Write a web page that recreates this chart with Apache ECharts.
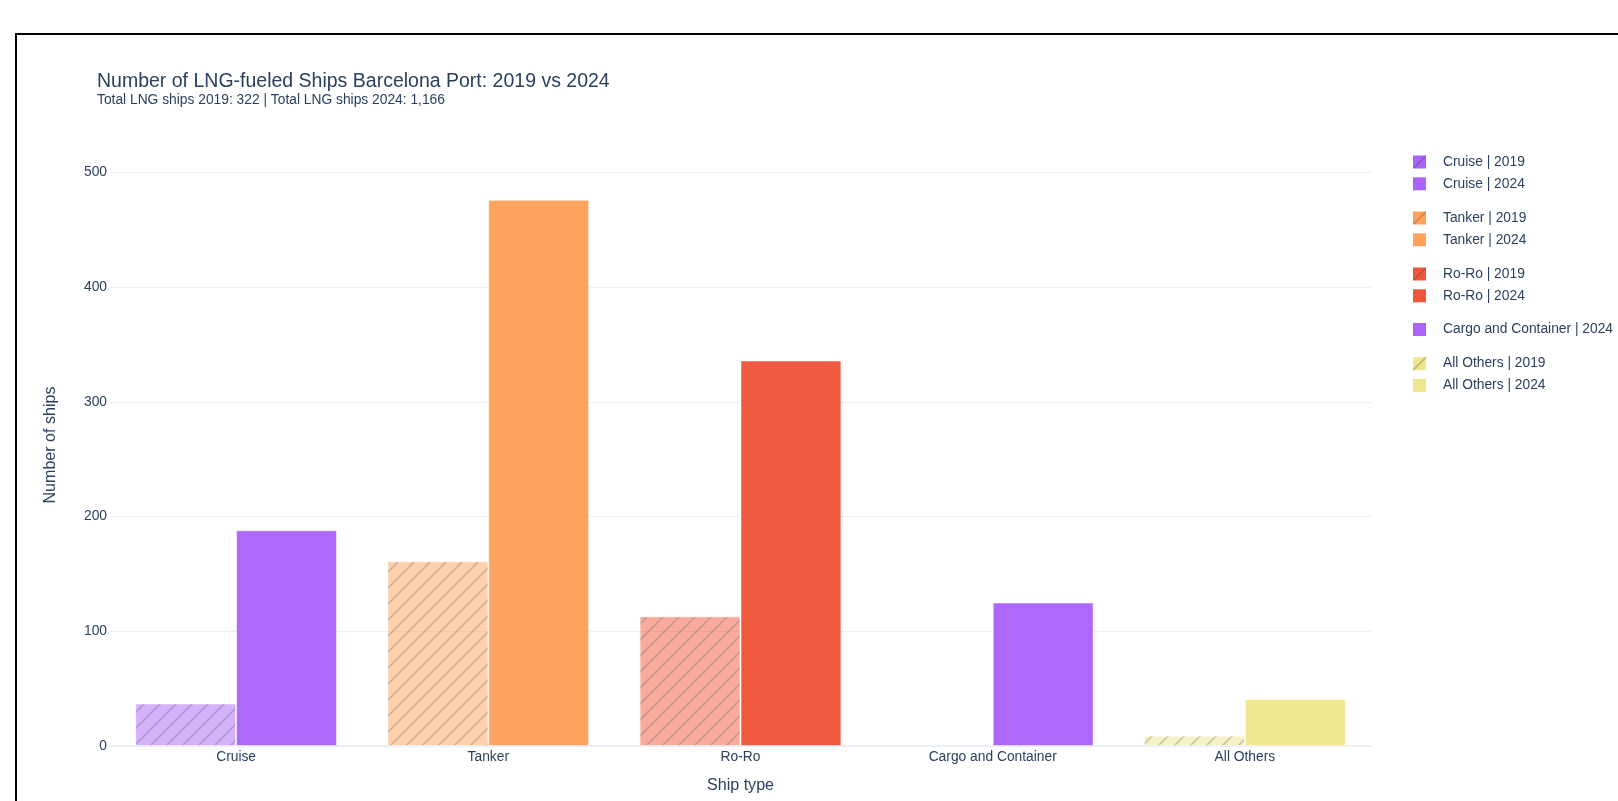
<!DOCTYPE html>
<html>
<head>
<meta charset="utf-8">
<script src="https://cdn.jsdelivr.net/npm/echarts@6/dist/echarts.min.js"></script>
<style>
  html, body { margin: 0; padding: 0; background: #fff; overflow: hidden; }
  #chart { position: absolute; left: 0; top: 0; width: 1618px; height: 801px; }
  #frame { position: absolute; left: 15px; top: 33px; width: 1700px; height: 900px;
           border: 2px solid #000; pointer-events: none; }
</style>
</head>
<body>
<div id="chart"></div>
<div id="frame"></div>
<script>
// ---- data ----
const categories = ["Cruise", "Tanker", "Ro-Ro", "Cargo and Container", "All Others"];
const values2019 = [37, 161, 113, null, 9];
const values2024 = [188, 476, 336, 125, 41];
const categoryColors = ["#AB63FA", "#FFA15A", "#EF553B", "#AB63FA", "#F0E68C"];
const yTicks = [0, 100, 200, 300, 400, 500];
const titleText = "Number of LNG-fueled Ships Barcelona Port: 2019 vs 2024";
const subtitleText = "Total LNG ships 2019: 322 | Total LNG ships 2024: 1,166";
const xAxisTitle = "Ship type";
const yAxisTitle = "Number of ships";

const FONT = "'Liberation Sans', Arial, sans-serif";
const TXT = "#2a3f5f";

function rgba(hex, a) {
  const r = parseInt(hex.slice(1, 3), 16), g = parseInt(hex.slice(3, 5), 16), b = parseInt(hex.slice(5, 7), 16);
  return `rgba(${r},${g},${b},${a})`;
}
function hatchTile(hex) {
  const s = 16;
  const c = document.createElement('canvas');
  c.width = s; c.height = s;
  const ctx = c.getContext('2d');
  ctx.fillStyle = rgba(hex, 0.5);
  ctx.fillRect(0, 0, s, s);
  ctx.strokeStyle = 'rgba(110,110,110,0.32)';
  ctx.lineWidth = 1.6;
  ctx.beginPath();
  ctx.moveTo(0, s); ctx.lineTo(s, 0);
  ctx.moveTo(-2, 2); ctx.lineTo(2, -2);
  ctx.moveTo(s - 2, s + 2); ctx.lineTo(s + 2, s - 2);
  ctx.stroke();
  return { image: c, repeat: 'repeat' };
}
function legendHatch(hex) {
  const s = 13;
  const c = document.createElement('canvas');
  c.width = s; c.height = s;
  const ctx = c.getContext('2d');
  ctx.fillStyle = hex;
  ctx.fillRect(0, 0, s, s);
  ctx.strokeStyle = 'rgba(60,60,60,0.35)';
  ctx.lineWidth = 1.3;
  ctx.beginPath();
  ctx.moveTo(0, s); ctx.lineTo(s, 0);
  ctx.stroke();
  return { image: c, repeat: 'repeat' };
}

const series = [];
const legendGroups = [];
categories.forEach((cat, i) => {
  const group = [];
  const col = categoryColors[i];
  if (values2019[i] != null) {
    const name = cat + " | 2019";
    series.push({
      name, type: 'bar', stack: '2019',
      data: categories.map((_, j) => j === i ? values2019[i] : '-'),
      itemStyle: { color: hatchTile(col), borderColor: 'rgba(255,255,255,0.5)', borderWidth: 1 },
      barGap: '0%', barCategoryGap: '20%'
    });
    group.push({ name, itemStyle: { color: legendHatch(col) } });
  }
  if (values2024[i] != null) {
    const name = cat + " | 2024";
    series.push({
      name, type: 'bar', stack: '2024',
      data: categories.map((_, j) => j === i ? values2024[i] : '-'),
      itemStyle: { color: col, opacity: 0.97, borderColor: 'rgba(255,255,255,0.5)', borderWidth: 1 },
      barGap: '0%', barCategoryGap: '20%'
    });
    group.push({ name, itemStyle: { color: col, opacity: 1 } });
  }
  legendGroups.push(group);
});

const legendTops = [155, 211, 267, 322.5, 356.6];
const legends = legendGroups.map((g, k) => ({
  data: g,
  orient: 'vertical',
  left: 1413,
  top: legendTops[k],
  padding: 0,
  itemWidth: 13,
  itemHeight: 13,
  itemGap: 7.8,
  icon: 'rect',
  itemStyle: { borderWidth: 0 },
  textStyle: { color: TXT, fontSize: 13.8, fontFamily: FONT, lineHeight: 14, padding: [0, 0, 0, 12] },
  selectedMode: false
}));

const chart = echarts.init(document.getElementById('chart'), null, { renderer: 'canvas' });
chart.setOption({
  animation: false,
  backgroundColor: 'transparent',
  textStyle: { fontFamily: FONT },
  title: {
    text: titleText,
    subtext: subtitleText,
    left: 97, top: 71.5, padding: 0, itemGap: 1.5,
    textStyle: { color: TXT, fontSize: 19.5, fontWeight: 'normal', fontFamily: FONT, lineHeight: 20 },
    subtextStyle: { color: TXT, fontSize: 13.8, fontFamily: FONT, lineHeight: 14 }
  },
  legend: legends,
  graphic: [{
    type: 'text',
    x: 50.5, y: 445,
    rotation: Math.PI / 2,
    style: {
      text: yAxisTitle, fill: TXT, fontSize: 16.1, fontFamily: FONT,
      align: 'center', verticalAlign: 'middle'
    }
  }],
  grid: { left: 110, right: 247, top: 172.3, bottom: 55, containLabel: false },
  xAxis: {
    type: 'category',
    data: categories,
    name: xAxisTitle,
    nameLocation: 'middle',
    nameGap: 32,
    nameTextStyle: { color: TXT, fontSize: 16.1, fontFamily: FONT },
    axisLine: { show: true, lineStyle: { color: '#EBF0F8', width: 2 } },
    axisTick: { show: false },
    axisLabel: { color: TXT, fontSize: 13.8, fontFamily: FONT, margin: 4 },
    splitLine: { show: false }
  },
  yAxis: {
    type: 'value',
    min: yTicks[0],
    max: yTicks[yTicks.length - 1],
    interval: 100,
    axisLine: { show: false },
    axisTick: { show: false },
    axisLabel: { color: TXT, fontSize: 13.8, fontFamily: FONT, margin: 3 },
    splitLine: { show: true, lineStyle: { color: '#EBF0F8', width: 1 } }
  },
  series
});
</script>
</body>
</html>
